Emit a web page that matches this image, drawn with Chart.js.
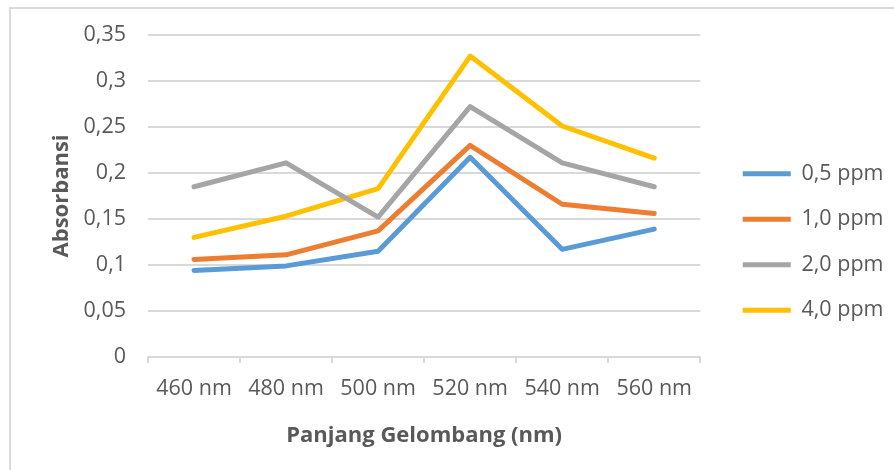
<!DOCTYPE html>
<html>
<head>
<meta charset="utf-8">
<script src="https://cdn.jsdelivr.net/npm/chart.js@4.4.1/dist/chart.umd.min.js"></script>
<style>
  html, body { margin: 0; padding: 0; background: #fff; }
  #wrap { width: 894px; height: 470px; }
</style>
</head>
<body>
<div id="wrap"><canvas id="absChart" width="894" height="470"></canvas></div>
<script>
// data
var wavelengths = ['460 nm', '480 nm', '500 nm', '520 nm', '540 nm', '560 nm'];
var ppm05 = [0.094, 0.099, 0.115, 0.217, 0.117, 0.139];
var ppm10 = [0.106, 0.111, 0.137, 0.230, 0.166, 0.156];
var ppm20 = [0.185, 0.211, 0.152, 0.272, 0.211, 0.185];
var ppm40 = [0.130, 0.153, 0.183, 0.327, 0.251, 0.216];
var seriesNames = ['0,5 ppm', '1,0 ppm', '2,0 ppm', '4,0 ppm'];
var yTickLabels = ['0', '0,05', '0,1', '0,15', '0,2', '0,25', '0,3', '0,35'];

var textColor = '#595959';
var gridColor = '#D9D9D9';
var fontFamily = '"Open Sans", "Noto Sans", sans-serif';

function makeLine(label, values, color) {
    return {
        label: label,
        data: values,
        borderColor: color,
        backgroundColor: color,
        borderWidth: 5,
        borderCapStyle: 'round',
        borderJoinStyle: 'round',
        pointRadius: 0,
        tension: 0
    };
}

// light frame on the top and left edge, like the cropped original
var framePlugin = {
    id: 'frame',
    beforeDraw: function (chart) {
        var ctx = chart.ctx;
        ctx.save();
        ctx.strokeStyle = '#DADADA';
        ctx.lineWidth = 2;
        ctx.beginPath();
        ctx.moveTo(10, 470);
        ctx.lineTo(10, 8);
        ctx.lineTo(894, 8);
        ctx.stroke();
        ctx.restore();
    }
};

var ctx = document.getElementById('absChart').getContext('2d');
var chart = new Chart(ctx, {
    type: 'line',
    data: {
        labels: wavelengths,
        datasets: [
            makeLine(seriesNames[0], ppm05, '#5B9BD5'),
            makeLine(seriesNames[1], ppm10, '#ED7D31'),
            makeLine(seriesNames[2], ppm20, '#A5A5A5'),
            makeLine(seriesNames[3], ppm40, '#FFC000')
        ]
    },
    plugins: [framePlugin],
    options: {
        responsive: false,
        animation: false,
        devicePixelRatio: 1,
        layout: {
            // bottom < 0 only to centre the legend a bit lower
            padding: { top: 26, right: 7.5, bottom: -8, left: 0 }
        },
        plugins: {
            tooltip: { enabled: false },
            legend: {
                position: 'right',
                align: 'center',
                labels: {
                    usePointStyle: true,
                    pointStyle: 'line',
                    pointStyleWidth: 48,
                    padding: 4,
                    color: textColor,
                    // taller line height gives the wide row spacing
                    font: { family: fontFamily, size: 21.5, lineHeight: 41.5 / 21.5 },
                    generateLabels: function (chart) {
                        var items = Chart.defaults.plugins.legend.labels.generateLabels(chart);
                        items.forEach(function (item) { item.text = [item.text]; });
                        return items;
                    }
                }
            }
        },
        scales: {
            x: {
                offset: true,
                grid: {
                    display: true,
                    drawOnChartArea: false,
                    offset: true,
                    tickLength: 6,
                    color: gridColor,
                    lineWidth: 2
                },
                border: { display: true, color: gridColor, width: 2 },
                ticks: {
                    color: textColor,
                    font: { family: fontFamily, size: 21.5 },
                    padding: 13,
                    maxRotation: 0,
                    autoSkip: false
                },
                title: {
                    display: true,
                    text: 'Panjang Gelombang (nm)',
                    color: textColor,
                    font: { family: fontFamily, size: 22, weight: 'bold' },
                    padding: { top: 0, bottom: 29 }
                },
                afterFit: function (scale) { scale.height = 121; }
            },
            y: {
                min: 0,
                max: 0.35,
                grid: {
                    color: gridColor,
                    lineWidth: 2,
                    drawTicks: false
                },
                border: { display: false },
                ticks: {
                    stepSize: 0.05,
                    color: textColor,
                    font: { family: fontFamily, size: 21.5 },
                    padding: 22,
                    callback: function (value, index) { return yTickLabels[index]; }
                },
                title: {
                    display: true,
                    text: 'Absorbansi',
                    color: textColor,
                    font: { family: fontFamily, size: 22, weight: 'bold' },
                    padding: { top: 49, bottom: 0 }
                },
                afterFit: function (scale) { scale.width = 148; }
            },
            // empty right axis only used as a gap between plot and legend
            gap: {
                position: 'right',
                display: true,
                grid: { display: false },
                border: { display: false },
                ticks: { display: false },
                afterFit: function (scale) { scale.width = 38.5; }
            }
        }
    }
});
</script>
</body>
</html>
